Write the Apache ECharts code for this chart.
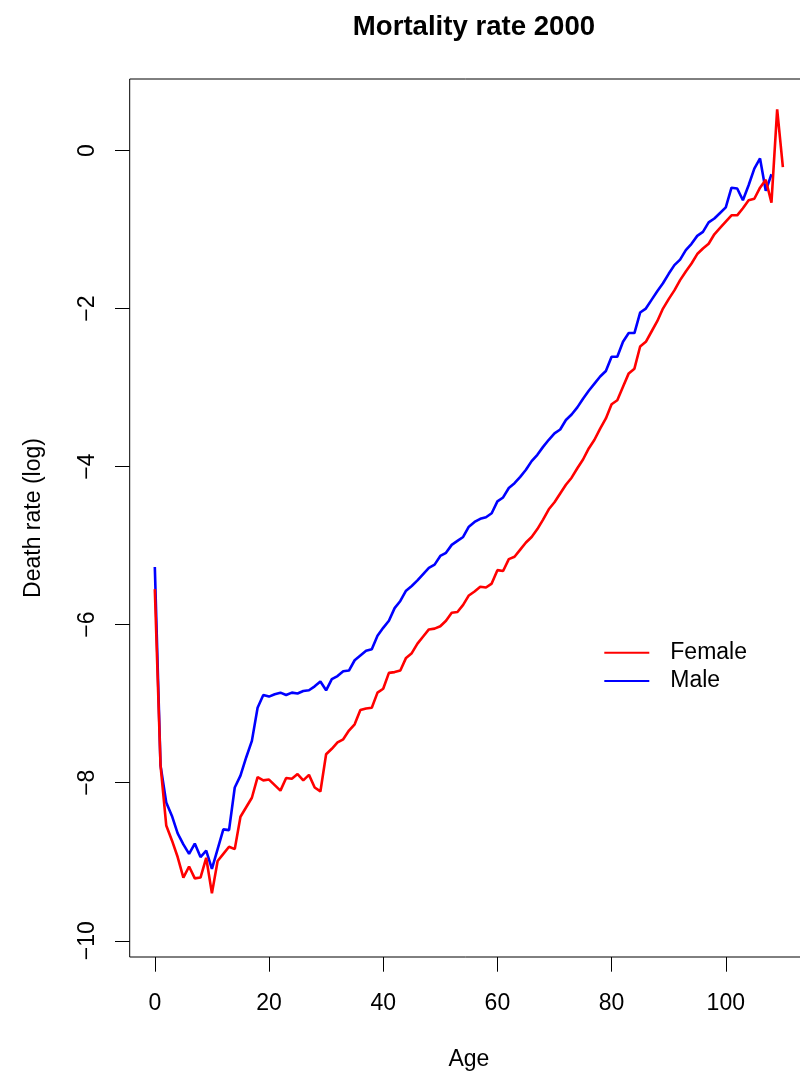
<!DOCTYPE html>
<html>
<head>
<meta charset="utf-8">
<title>Mortality rate 2000</title>
<script src="https://cdn.jsdelivr.net/npm/echarts@6/dist/echarts.min.js"></script>
<style>
  html, body { margin: 0; padding: 0; background: #ffffff; }
  #chart { width: 800px; height: 1074px; }
</style>
</head>
<body>
<div id="chart"></div>
<script>
// Log death rates by single year of age, year 2000
const femaleLogRate = [
  -5.55, -7.78, -8.54, -8.73, -8.94, -9.20, -9.06, -9.21, -9.20, -8.95,
  -9.40, -8.99, -8.90, -8.81, -8.84, -8.43, -8.31, -8.19, -7.93, -7.97,
  -7.96, -8.03, -8.10, -7.94, -7.95, -7.89, -7.97, -7.90, -8.06, -8.11,
  -7.64, -7.57, -7.49, -7.45, -7.34, -7.26, -7.08, -7.06, -7.05, -6.86,
  -6.81, -6.61, -6.60, -6.58, -6.42, -6.36, -6.24, -6.15, -6.06, -6.05,
  -6.02, -5.95, -5.85, -5.84, -5.75, -5.63, -5.58, -5.52, -5.53, -5.48,
  -5.31, -5.32, -5.17, -5.14, -5.05, -4.96, -4.89, -4.79, -4.67, -4.54,
  -4.45, -4.34, -4.23, -4.14, -4.02, -3.91, -3.77, -3.66, -3.52, -3.39,
  -3.21, -3.16, -2.99, -2.82, -2.76, -2.48, -2.42, -2.29, -2.16, -2.00,
  -1.88, -1.77, -1.64, -1.53, -1.43, -1.31, -1.24, -1.18, -1.06, -0.98,
  -0.90, -0.82, -0.82, -0.73, -0.63, -0.61, -0.47, -0.37, -0.66, 0.52,
  -0.21
];
const maleLogRate = [
  -5.27, -7.78, -8.25, -8.42, -8.64, -8.78, -8.90, -8.77, -8.94, -8.86,
  -9.09, -8.84, -8.59, -8.60, -8.06, -7.91, -7.68, -7.47, -7.05, -6.89,
  -6.91, -6.88, -6.86, -6.89, -6.86, -6.87, -6.84, -6.83, -6.78, -6.72,
  -6.83, -6.69, -6.65, -6.59, -6.58, -6.45, -6.39, -6.33, -6.31, -6.14,
  -6.04, -5.95, -5.79, -5.70, -5.57, -5.51, -5.44, -5.36, -5.28, -5.24,
  -5.13, -5.09, -4.99, -4.94, -4.89, -4.76, -4.70, -4.66, -4.64, -4.59,
  -4.44, -4.39, -4.27, -4.21, -4.13, -4.04, -3.93, -3.85, -3.75, -3.66,
  -3.58, -3.53, -3.41, -3.34, -3.25, -3.14, -3.04, -2.95, -2.86, -2.79,
  -2.61, -2.61, -2.42, -2.31, -2.31, -2.05, -2.00, -1.89, -1.78, -1.68,
  -1.56, -1.45, -1.38, -1.26, -1.18, -1.08, -1.03, -0.91, -0.86, -0.79,
  -0.72, -0.47, -0.48, -0.63, -0.44, -0.23, -0.10, -0.51, -0.30
];
const seriesNames = ['Female', 'Male'];
const xTickValues = [0, 20, 40, 60, 80, 100];
const yTickValues = [-10, -8, -6, -4, -2, 0];

// pair each rate with its age (index = age in years)
const withAge = arr => arr.map((v, age) => [age, v]);

const FONT = "'Liberation Sans', Arial, Helvetica, sans-serif";
const minusSign = v => String(v).replace('-', '\u2212');

const chart = echarts.init(document.getElementById('chart'), null, { renderer: 'canvas' });

chart.setOption({
  animation: false,
  backgroundColor: '#ffffff',
  textStyle: { fontFamily: FONT, color: '#000000' },
  title: {
    text: 'Mortality rate 2000',
    left: 469,
    top: 8,
    textAlign: 'center',
    textStyle: { fontFamily: FONT, fontSize: 27.6, fontWeight: 'bold', color: '#000000' }
  },
  grid: {
    left: 129.7,
    top: 79,
    right: -8,
    bottom: 117,
    outerBoundsMode: 'none',
    containLabel: false,
    show: true,
    borderColor: '#000000',
    borderWidth: 1,
    backgroundColor: 'transparent'
  },
  legend: {
    orient: 'vertical',
    left: 603.3,
    top: 641.2,
    padding: 0,
    itemWidth: 45,
    itemHeight: 23,
    itemGap: 5.3,
    data: seriesNames,
    itemStyle: { opacity: 0 },
    textStyle: {
      fontFamily: FONT, fontSize: 23, color: '#000000',
      lineHeight: 23, padding: [0, 0, 0, 16]
    }
  },
  xAxis: {
    type: 'value',
    min: -4.4,
    max: 114.4,
    name: 'Age',
    nameLocation: 'middle',
    nameGap: 91,
    nameTextStyle: { fontFamily: FONT, fontSize: 23, color: '#000000', lineHeight: 23 },
    splitLine: { show: false },
    axisLine: { show: false, onZero: false },
    axisTick: {
      show: true, length: 14.7, inside: false,
      customValues: xTickValues,
      lineStyle: { color: '#000000', width: 1 }
    },
    axisLabel: {
      show: true, margin: 35,
      customValues: xTickValues,
      fontFamily: FONT, fontSize: 23, color: '#000000', lineHeight: 23
    }
  },
  yAxis: {
    type: 'value',
    min: -10.205,
    max: 0.905,
    name: 'Death rate (log)',
    nameLocation: 'middle',
    nameGap: 85,
    nameRotate: 90,
    nameTextStyle: { fontFamily: FONT, fontSize: 23, color: '#000000', lineHeight: 23 },
    splitLine: { show: false },
    axisLine: { show: false, onZero: false },
    axisTick: {
      show: true, length: 14.7, inside: false,
      customValues: yTickValues,
      lineStyle: { color: '#000000', width: 1 }
    },
    axisLabel: {
      show: true, margin: 31, rotate: 90,
      customValues: yTickValues,
      formatter: minusSign,
      fontFamily: FONT, fontSize: 23, color: '#000000', lineHeight: 23
    }
  },
  series: [
    {
      name: seriesNames[0],
      type: 'line',
      data: withAge(femaleLogRate),
      symbol: 'none',
      smooth: false,
      lineStyle: { color: '#ff0000', width: 2.6 },
      itemStyle: { color: '#ff0000' },
      z: 3
    },
    {
      name: seriesNames[1],
      type: 'line',
      data: withAge(maleLogRate),
      symbol: 'none',
      smooth: false,
      lineStyle: { color: '#0000ff', width: 2.6 },
      itemStyle: { color: '#0000ff' },
      z: 2
    }
  ]
});
</script>
</body>
</html>
